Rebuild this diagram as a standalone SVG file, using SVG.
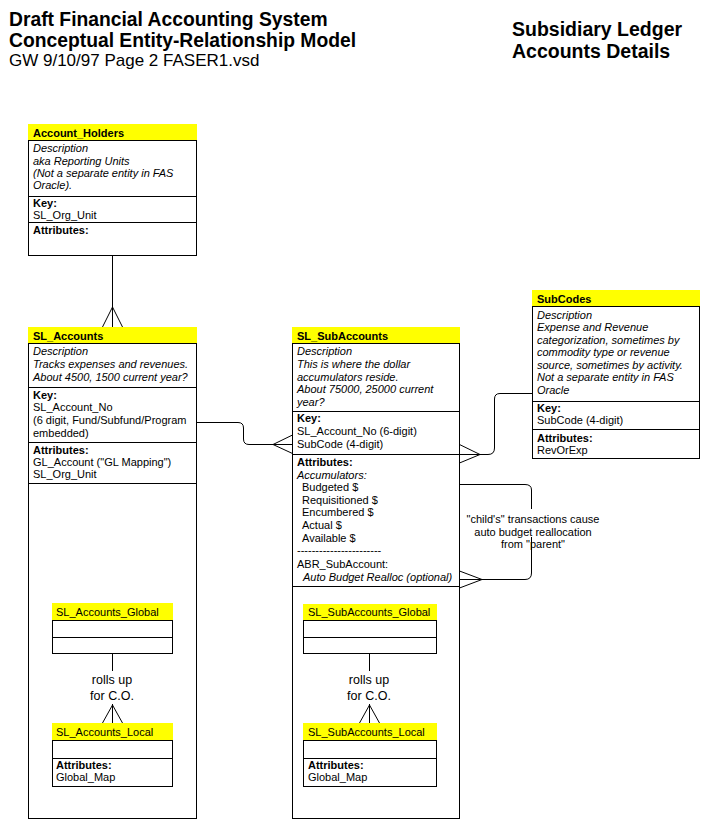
<svg xmlns="http://www.w3.org/2000/svg" width="727" height="822" viewBox="0 0 727 822">
<style>
text{font-family:"Liberation Sans",Arial,sans-serif;fill:#000}
.t{font-size:11px}
.i{font-size:11px;font-style:italic}
.b{font-size:11px;font-weight:bold}
.r{font-size:12.5px;text-anchor:middle}
.hd{fill:#ffff00;stroke:none}
.bx{fill:#fff;stroke:#000;stroke-width:1}
.ln{fill:none;stroke:#000;stroke-width:1}
</style>
<rect x="0" y="0" width="727" height="822" fill="#fff"/>
<g id="titles">
<text x="9" y="26" style="font-size:19.3px;font-weight:bold">Draft Financial Accounting System</text>
<text x="9" y="47" style="font-size:19.3px;font-weight:bold">Conceptual Entity-Relationship Model</text>
<text x="9" y="66" style="font-size:17px">GW 9/10/97 Page 2 FASER1.vsd</text>
<text x="512" y="36" style="font-size:19.5px;font-weight:bold">Subsidiary Ledger</text>
<text x="512" y="57.5" style="font-size:19.5px;font-weight:bold">Accounts Details</text>
</g>
<g id="Account_Holders">
<rect class="hd" x="28" y="124" width="169" height="17"/>
<text class="b" x="33" y="137">Account_Holders</text>
<rect class="bx" x="28.5" y="140.5" width="168" height="115"/>
<path class="ln" d="M28.5,196.5H196.5M28.5,222.5H196.5"/>
<text class="i" x="33" y="152">Description</text>
<text class="i" x="33" y="164.5">aka Reporting Units</text>
<text class="i" x="33" y="176.5">(Not a separate entity in FAS</text>
<text class="i" x="33" y="188.5">Oracle).</text>
<text class="b" x="33" y="207">Key:</text>
<text class="t" x="33" y="219">SL_Org_Unit</text>
<text class="b" x="33" y="234">Attributes:</text>
</g>
<g id="SL_Accounts">
<rect class="hd" x="28" y="327" width="169" height="17"/>
<text class="b" x="33" y="340">SL_Accounts</text>
<rect class="bx" x="28.5" y="343.5" width="168" height="475"/>
<path class="ln" d="M28.5,387.5H196.5M28.5,442.5H196.5M28.5,483.5H196.5"/>
<text class="i" x="33" y="355">Description</text>
<text class="i" x="33" y="368">Tracks expenses and revenues.</text>
<text class="i" x="33" y="381">About 4500, 1500 current year?</text>
<text class="b" x="33" y="398.5">Key:</text>
<text class="t" x="33" y="411">SL_Account_No</text>
<text class="t" x="33" y="424">(6 digit, Fund/Subfund/Program</text>
<text class="t" x="33" y="437">embedded)</text>
<text class="b" x="33" y="454">Attributes:</text>
<text class="t" x="33" y="466">GL_Account ("GL Mapping")</text>
<text class="t" x="33" y="478">SL_Org_Unit</text>
</g>
<g id="SL_Accounts_Global">
<rect class="hd" x="52" y="603" width="121" height="17"/>
<text class="t" x="56" y="616">SL_Accounts_Global</text>
<rect class="bx" x="52.5" y="620.5" width="120" height="33"/>
<path class="ln" d="M52.5,637.5H172.5"/>
</g>
<g id="SL_Accounts_Local">
<rect class="hd" x="52" y="723" width="121" height="17"/>
<text class="t" x="56" y="736">SL_Accounts_Local</text>
<rect class="bx" x="52.5" y="740.5" width="120" height="46"/>
<path class="ln" d="M52.5,758.5H172.5"/>
<text class="b" x="56" y="769">Attributes:</text>
<text class="t" x="56" y="781">Global_Map</text>
</g>
<g id="SL_SubAccounts">
<rect class="hd" x="292" y="327" width="168" height="17"/>
<text class="b" x="297" y="340">SL_SubAccounts</text>
<rect class="bx" x="292.5" y="343.5" width="167" height="475"/>
<path class="ln" d="M292.5,411.5H459.5M292.5,454.5H459.5M292.5,586.5H459.5"/>
<text class="i" x="297" y="355">Description</text>
<text class="i" x="297" y="368">This is where the dollar</text>
<text class="i" x="297" y="380.5">accumulators reside.</text>
<text class="i" x="297" y="393">About 75000, 25000 current</text>
<text class="i" x="297" y="405.5">year?</text>
<text class="b" x="297" y="422">Key:</text>
<text class="t" x="297" y="435">SL_Account_No  (6-digit)</text>
<text class="t" x="297" y="447.5">SubCode  (4-digit)</text>
<text class="b" x="297" y="466">Attributes:</text>
<text class="i" x="297" y="479">Accumulators:</text>
<text class="t" x="302" y="491">Budgeted $</text>
<text class="t" x="302" y="504">Requisitioned $</text>
<text class="t" x="302" y="516">Encumbered $</text>
<text class="t" x="302" y="529">Actual $</text>
<text class="t" x="302" y="541.5">Available $</text>
<text class="t" x="297" y="554">-----------------------</text>
<text class="t" x="297" y="568">ABR_SubAccount:</text>
<text class="i" x="303" y="580.5">Auto Budget Realloc (optional)</text>
</g>
<g id="SL_SubAccounts_Global">
<rect class="hd" x="303" y="604" width="134" height="16"/>
<text class="t" x="308" y="616">SL_SubAccounts_Global</text>
<rect class="bx" x="303.5" y="620.5" width="133" height="33"/>
<path class="ln" d="M303.5,637.5H436.5"/>
</g>
<g id="SL_SubAccounts_Local">
<rect class="hd" x="303" y="723" width="134" height="17"/>
<text class="t" x="308" y="736">SL_SubAccounts_Local</text>
<rect class="bx" x="303.5" y="740.5" width="133" height="46"/>
<path class="ln" d="M303.5,758.5H436.5"/>
<text class="b" x="308" y="769">Attributes:</text>
<text class="t" x="308" y="781">Global_Map</text>
</g>
<g id="SubCodes">
<rect class="hd" x="532" y="290" width="168" height="17"/>
<text class="b" x="537" y="303">SubCodes</text>
<rect class="bx" x="532.5" y="306.5" width="167" height="152"/>
<path class="ln" d="M532.5,401.5H699.5M532.5,429.5H699.5"/>
<text class="i" x="537" y="319">Description</text>
<text class="i" x="537" y="331">Expense and Revenue</text>
<text class="i" x="537" y="343.5">categorization, sometimes by</text>
<text class="i" x="537" y="356">commodity type or revenue</text>
<text class="i" x="537" y="368.5">source, sometimes by activity.</text>
<text class="i" x="537" y="381">Not a separate entity in FAS</text>
<text class="i" x="537" y="393.5">Oracle</text>
<text class="b" x="537" y="412">Key:</text>
<text class="t" x="537" y="424">SubCode (4-digit)</text>
<text class="b" x="537" y="442">Attributes:</text>
<text class="t" x="537" y="453.5">RevOrExp</text>
</g>
<g id="connectors">
<path class="ln" d="M112.5,255.5V327M112.5,307L102.5,327M112.5,307L122.5,327"/>
<path class="ln" d="M196.5,422.5H238Q243.5,422.5 243.5,428V439Q243.5,444.5 249,444.5H292.5M273,444.5L292.5,435M273,444.5L292.5,453.5"/>
<path class="ln" d="M532.5,393.5H500Q494.5,393.5 494.5,399V448Q494.5,454.5 488,454.5H459.5M480,454.5L459.5,444.5M480,454.5L459.5,463"/>
<path class="ln" d="M459.5,484.5H525Q531.5,484.5 531.5,490V573Q531.5,579.5 525,579.5H459.5M482,579.5L459.5,571M482,579.5L459.5,588"/>
<rect x="465" y="509" width="138" height="28" fill="#fff"/>
<text class="t" x="533" y="523" text-anchor="middle">"child's" transactions cause</text>
<text class="t" x="533" y="535.5" text-anchor="middle">auto budget reallocation</text>
<text class="t" x="533" y="548" text-anchor="middle">from "parent"</text>
<path class="ln" d="M112.5,653.5V671M112.5,704V723M112.5,705L102.5,723M112.5,705L122.5,723"/>
<text class="r" x="112" y="684">rolls up</text>
<text class="r" x="112" y="700">for C.O.</text>
<path class="ln" d="M369.5,653.5V671M369.5,704V723M369.5,705L359.5,723M369.5,705L379.5,723"/>
<text class="r" x="369" y="684">rolls up</text>
<text class="r" x="369" y="700">for C.O.</text>
</g>
</svg>
